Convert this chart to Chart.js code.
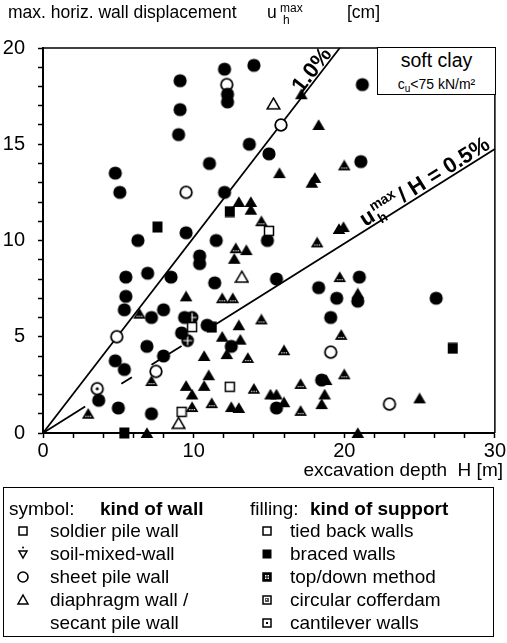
<!DOCTYPE html>
<html><head><meta charset="utf-8">
<script src="https://cdn.jsdelivr.net/npm/chart.js@4"></script>
<style>
body{margin:0;background:#fff;}
#wrap{position:relative;width:507px;height:643px;overflow:hidden;font-family:"Liberation Sans",Arial,sans-serif;color:#000;}
#c{position:absolute;left:0;top:0;}
.t{position:absolute;white-space:pre;line-height:1;}
.b{font-weight:bold;}
svg.ic{position:absolute;overflow:visible;}
#soft{position:absolute;left:377px;top:47px;width:117px;height:46px;border:1.5px solid #000;background:#fff;}
</style></head><body>
<div id="wrap">
<canvas id="c" width="507" height="643"></canvas>

<div class="t" style="left:8px;top:3.6px;font-size:17.5px">max. horiz. wall displacement</div>
<div class="t" style="left:267px;top:3.6px;font-size:17.5px">u</div>
<div class="t" style="left:280px;top:2px;font-size:12px">max</div>
<div class="t" style="left:283px;top:14px;font-size:12px">h</div>
<div class="t" style="left:347px;top:3.6px;font-size:17.5px">[cm]</div>

<div id="soft">
  <div class="t" style="left:0;width:117px;text-align:center;top:3px;font-size:19.5px">soft clay</div>
  <div class="t" style="left:0;width:117px;text-align:center;top:29px;font-size:14px">c<span style="font-size:10px;position:relative;top:3px">u</span>&lt;75 kN/m²</div>
</div>

<div class="t" style="right:4px;top:460px;font-size:19px">excavation depth  H [m]</div>

<div style="position:absolute;left:3px;top:487px;width:489px;height:148px;border:1.5px solid #000;"></div>
<div class="t" style="left:9px;top:499px;font-size:19px">symbol:</div>
<div class="t b" style="left:100px;top:499px;font-size:19px">kind of wall</div>
<div class="t" style="left:250px;top:499px;font-size:19px">filling:</div>
<div class="t b" style="left:310px;top:499px;font-size:19px">kind of support</div>

<div class="t" style="left:50px;top:521px;font-size:19px">soldier pile wall</div>
<div class="t" style="left:50px;top:544px;font-size:19px">soil-mixed-wall</div>
<div class="t" style="left:50px;top:567px;font-size:19px">sheet pile wall</div>
<div class="t" style="left:50px;top:590px;font-size:19px">diaphragm wall /</div>
<div class="t" style="left:50px;top:613px;font-size:19px">secant pile wall</div>

<div class="t" style="left:290px;top:521px;font-size:19px">tied back walls</div>
<div class="t" style="left:290px;top:544px;font-size:19px">braced walls</div>
<div class="t" style="left:290px;top:567px;font-size:19px">top/down method</div>
<div class="t" style="left:290px;top:590px;font-size:19px">circular cofferdam</div>
<div class="t" style="left:290px;top:613px;font-size:19px">cantilever walls</div>

<svg class="ic" style="left:18px;top:526px" width="10" height="10"><rect x="1" y="1" width="8" height="8" fill="none" stroke="#000" stroke-width="1.5"/></svg>
<svg class="ic" style="left:18px;top:546px" width="10" height="14"><circle cx="5" cy="1.5" r="1" fill="#000"/><path d="M1 5 L9 5 L5 12 Z" fill="none" stroke="#000" stroke-width="1.5"/></svg>
<svg class="ic" style="left:17px;top:571px" width="12" height="12"><circle cx="6" cy="6" r="5" fill="none" stroke="#000" stroke-width="1.6"/></svg>
<svg class="ic" style="left:17px;top:594px" width="12" height="11"><path d="M6 1 L11 10 L1 10 Z" fill="none" stroke="#000" stroke-width="1.5"/></svg>

<svg class="ic" style="left:262px;top:526px" width="10" height="10"><rect x="1" y="1" width="8" height="8" fill="none" stroke="#000" stroke-width="1.5"/></svg>
<svg class="ic" style="left:262px;top:549px" width="10" height="10"><rect x="0.5" y="0.5" width="9" height="9" fill="#000"/></svg>
<svg class="ic" style="left:262px;top:572px" width="10" height="10"><rect x="1" y="1" width="8" height="8" fill="#000" stroke="#000" stroke-width="1.5"/><path d="M3 3h1.5v1.5H3zM5.5 3H7v1.5H5.5zM3 5.5h1.5V7H3zM5.5 5.5H7V7H5.5z" fill="#fff"/></svg>
<svg class="ic" style="left:262px;top:595px" width="10" height="10"><rect x="1" y="1" width="8" height="8" fill="#fff" stroke="#000" stroke-width="1.5"/><rect x="3" y="3" width="4" height="4" fill="#555"/><rect x="4" y="4" width="1" height="1" fill="#fff"/></svg>
<svg class="ic" style="left:262px;top:618px" width="10" height="10"><rect x="1" y="1" width="8" height="8" fill="none" stroke="#000" stroke-width="1.5"/><rect x="4" y="4" width="2" height="2" fill="#000"/></svg>
</div>

<script>
// ---------- data ----------
const xTickLabels = [0, 10, 20, 30];
const yTickLabels = [0, 5, 10, 15, 20];

// sheet pile wall, braced (filled circles)
const sheetBraced = [[9.1,18.3],[9.1,16.8],[9.0,15.5],[4.8,13.5],[5.1,12.5],[12.05,18.9],[14.0,19.1],[12.25,17.6],[12.25,17.2],[13.7,15.0],[15.0,14.5],[11.05,14.0],[21.2,18.1],[21.1,14.1],[12.05,12.5],[9.5,10.4],[6.3,10.0],[5.5,8.1],[6.95,8.3],[8.5,8.1],[5.5,7.1],[5.4,6.4],[8.0,6.4],[14.9,10.0],[11.5,10.0],[10.4,9.2],[10.4,8.8],[11.4,7.8],[15.5,8.0],[18.3,7.55],[19.5,7.0],[21.0,8.1],[20.9,6.85],[26.1,7.0],[7.2,6.0],[9.4,6.0],[6.9,4.5],[8.0,4.0],[9.2,5.2],[4.8,3.75],[5.4,3.3],[3.7,1.7],[5.0,1.3],[7.2,1.0],[10.9,5.6],[19.1,6.0],[12.5,4.5],[15.5,1.3],[18.5,2.75]];
// sheet pile wall, tied back (open circles)
const sheetTied = [[12.2,18.1],[15.8,16.0],[9.5,12.5],[4.9,5.0],[7.5,3.2],[19.1,4.2],[23.0,1.5]];
// sheet pile wall, top/down
const sheetTopDown = [[9.6,4.8],[9.9,6.0]];
// sheet pile wall, cantilever
const sheetCantilever = [[3.6,2.3]];
// diaphragm / secant pile wall, braced (filled triangles)
const diaBraced = [[17.15,17.6],[18.3,16.0],[15.7,13.5],[17.85,13.0],[18.05,13.25],[13.0,12.0],[13.8,12.0],[13.8,11.6],[13.5,9.5],[12.7,9.05],[19.65,10.6],[19.95,10.7],[9.5,7.1],[13.0,5.6],[11.9,5.0],[13.1,4.85],[12.2,4.1],[10.7,4.0],[11.0,3.0],[10.7,2.45],[9.5,2.45],[9.9,2.0],[15.1,2.0],[15.5,2.0],[16.0,1.6],[18.8,2.75],[18.7,2.0],[18.5,1.5],[12.5,1.35],[13.0,1.3],[6.9,0],[20.9,0],[25.0,1.8],[20.9,7.25]];
// diaphragm wall, tied back (open triangles)
const diaTied = [[15.3,17.1],[13.2,8.1],[9.0,0.5]];
// diaphragm wall, patterned filling
const diaPattern = [[6.4,6.2],[7.2,2.7],[3.0,1.0],[14.5,11.0],[12.8,9.6],[18.2,9.9],[11.9,7.0],[12.6,7.0],[19.7,8.1],[20.0,13.9],[14.5,5.9],[13.6,3.9],[16.0,4.3],[14.0,2.3],[17.1,2.55],[9.9,1.35],[11.2,1.55],[17.1,1.15],[19.8,5.1],[20.0,3.05]];
// soldier pile wall, braced (filled squares)
const soldierBraced = [[7.6,10.7],[12.4,11.5],[5.4,0],[27.2,4.4],[11.2,5.5]];
// soldier pile wall, tied back (open squares)
const soldierTied = [[15.0,10.5],[12.4,2.4],[9.2,1.1],[9.9,5.5]];

// reference lines u/H = 1.0 % and 0.5 % (0.5 % line is drawn broken between markers)
const line1pct = [[0,0],[19.7,20]];
const line05pctSegments = [
  [[0,0],[2.8,1.38]],
  [[5.2,2.56],[5.9,2.9]],
  [[7.2,3.54],[9.2,4.52]],
  [[11.5,5.66],[30,14.75]]
];

// ---------- marker images ----------
function mk(w,h,draw){const c=document.createElement('canvas');c.width=w;c.height=h;const g=c.getContext('2d');draw(g,w/2,h/2);return c;}
function tri(g,cx,cy){g.beginPath();g.moveTo(cx,cy-5.8);g.lineTo(cx+6.3,cy+5);g.lineTo(cx-6.3,cy+5);g.closePath();}
const M = {
  fc: mk(16,16,(g,cx,cy)=>{g.beginPath();g.arc(cx,cy,6.6,0,7);g.fillStyle='#000';g.fill();}),
  oc: mk(16,16,(g,cx,cy)=>{g.beginPath();g.arc(cx,cy,5.8,0,7);g.fillStyle='#fff';g.fill();g.lineWidth=1.8;g.strokeStyle='#000';g.stroke();}),
  xc: mk(16,16,(g,cx,cy)=>{g.beginPath();g.arc(cx,cy,6.4,0,7);g.fillStyle='#000';g.fill();g.strokeStyle='#fff';g.lineWidth=1.2;g.beginPath();g.moveTo(cx-4.5,cy);g.lineTo(cx+4.5,cy);g.moveTo(cx,cy-4.5);g.lineTo(cx,cy+4.5);g.stroke();}),
  dc: mk(16,16,(g,cx,cy)=>{g.beginPath();g.arc(cx,cy,5.8,0,7);g.fillStyle='#fff';g.fill();g.lineWidth=1.8;g.strokeStyle='#000';g.stroke();g.beginPath();g.arc(cx,cy,1.6,0,7);g.fillStyle='#000';g.fill();}),
  ft: mk(14,12,(g,cx,cy)=>{tri(g,cx,cy);g.fillStyle='#000';g.fill();}),
  ot: mk(15,14,(g,cx,cy)=>{tri(g,cx,cy);g.fillStyle='#fff';g.fill();g.lineWidth=1.5;g.strokeStyle='#000';g.stroke();}),
  dt: mk(14,12,(g,cx,cy)=>{tri(g,cx,cy);g.fillStyle='#000';g.fill();g.fillStyle='#fff';[-2.8,-0.5,1.8].forEach(d=>g.fillRect(cx+d,cy+2,1.2,1.2));}),
  fs: mk(12,12,(g,cx,cy)=>{g.fillStyle='#000';g.fillRect(cx-5,cy-5.5,10,11);}),
  os: mk(12,12,(g,cx,cy)=>{g.fillStyle='#fff';g.fillRect(cx-4.5,cy-4.5,9,9);g.lineWidth=1.5;g.strokeStyle='#000';g.strokeRect(cx-4.5,cy-4.5,9,9);})
};

const toXY = a => a.map(p => ({x:p[0], y:p[1]}));
function pts(arr, img){
  return {type:'scatter', data:toXY(arr), pointStyle:img, pointRadius:6, pointHoverRadius:6, showLine:false, clip:false, order:0};
}
function ln(arr){
  return {type:'line', data:toXY(arr), borderColor:'#000', borderWidth:1.8, pointRadius:0, fill:false, showLine:true, order:10, clip:false};
}

const datasets = [
  ln(line1pct),
  ...line05pctSegments.map(ln),
  pts(diaPattern, M.dt),
  pts(diaBraced, M.ft),
  pts(diaTied, M.ot),
  pts(soldierBraced, M.fs),
  pts(soldierTied, M.os),
  pts(sheetBraced, M.fc),
  pts(sheetTied, M.oc),
  pts(sheetTopDown, M.xc),
  pts(sheetCantilever, M.dc)
];

const FONT = '"Liberation Sans", Arial, sans-serif';

const deco = {
  id:'deco',
  beforeDatasetsDraw(chart){
    const {ctx, chartArea:a} = chart;
    ctx.save();
    ctx.strokeStyle='#000'; ctx.lineWidth=1.5;
    ctx.beginPath();
    ctx.moveTo(a.left, a.top); ctx.lineTo(a.right, a.top); ctx.lineTo(a.right, a.bottom);
    ctx.stroke();
    ctx.restore();
  },
  afterDatasetsDraw(chart){
    const {ctx, scales:{x, y}} = chart;
    ctx.save();
    ctx.fillStyle='#000';
    // 1.0 % label
    {
      const p0x=x.getPixelForValue(0), p0y=y.getPixelForValue(0);
      const p1x=x.getPixelForValue(line1pct[1][0]), p1y=y.getPixelForValue(line1pct[1][1]);
      const ang=Math.atan2(p1y-p0y, p1x-p0x);
      const bx=x.getPixelForValue(17.2), by=y.getPixelForValue(17.2*20/19.7);
      ctx.translate(bx,by); ctx.rotate(ang);
      ctx.font='bold 22px '+FONT; ctx.textBaseline='alphabetic';
      ctx.fillText('1.0%', 2, -2);
      ctx.setTransform(1,0,0,1,0,0);
    }
    // 0.5 % label
    {
      const s=line05pctSegments[3];
      const ax=x.getPixelForValue(s[0][0]), ay=y.getPixelForValue(s[0][1]);
      const bx2=x.getPixelForValue(s[1][0]), by2=y.getPixelForValue(s[1][1]);
      const ang=Math.atan2(by2-ay, bx2-ax);
      const hx=21.5, hy=s[0][1]+(hx-s[0][0])*(s[1][1]-s[0][1])/(s[1][0]-s[0][0]);
      ctx.translate(x.getPixelForValue(hx), y.getPixelForValue(hy)); ctx.rotate(ang);
      ctx.textBaseline='alphabetic';
      let cx=0; const base=-3;
      ctx.font='bold 22px '+FONT; ctx.fillText('u', cx, base); cx+=ctx.measureText('u').width+1;
      ctx.font='bold 14px '+FONT; ctx.fillText('max', cx, base-9); const mw=ctx.measureText('max').width;
      ctx.fillText('h', cx+1, base+6);
      cx+=mw+3;
      ctx.font='bold 22px '+FONT; ctx.fillText('/ H = 0.5%', cx, base);
      ctx.setTransform(1,0,0,1,0,0);
    }
    ctx.restore();
  }
};

new Chart(document.getElementById('c'), {
  data:{datasets},
  options:{
    responsive:false, devicePixelRatio:1, animation:false,
    layout:{padding:{left:0, top:48, right:11, bottom:163}},
    plugins:{legend:{display:false}, tooltip:{enabled:false}, title:{display:false}},
    scales:{
      x:{type:'linear', position:'bottom', min:0, max:30,
        ticks:{stepSize:2, autoSkip:false, maxRotation:0, padding:1, color:'#000', font:{family:FONT, size:20},
          callback:v => xTickLabels.includes(v) ? String(v) : ''},
        grid:{display:true, drawOnChartArea:false, drawTicks:true, tickLength:5, tickWidth:1.5, tickColor:'#000'},
        border:{display:true, color:'#000', width:2},
        afterFit(s){ s.height = 47; }
      },
      y:{type:'linear', position:'left', min:0, max:20,
        ticks:{stepSize:1, autoSkip:false, padding:13, color:'#000', font:{family:FONT, size:20},
          callback:v => yTickLabels.includes(v) ? String(v) : ''},
        grid:{display:true, drawOnChartArea:false, drawTicks:true, tickLength:5, tickWidth:1.5, tickColor:'#000'},
        border:{display:true, color:'#000', width:2},
        afterFit(s){ s.width = 43; }
      }
    }
  },
  plugins:[deco]
});
</script>
</body></html>
